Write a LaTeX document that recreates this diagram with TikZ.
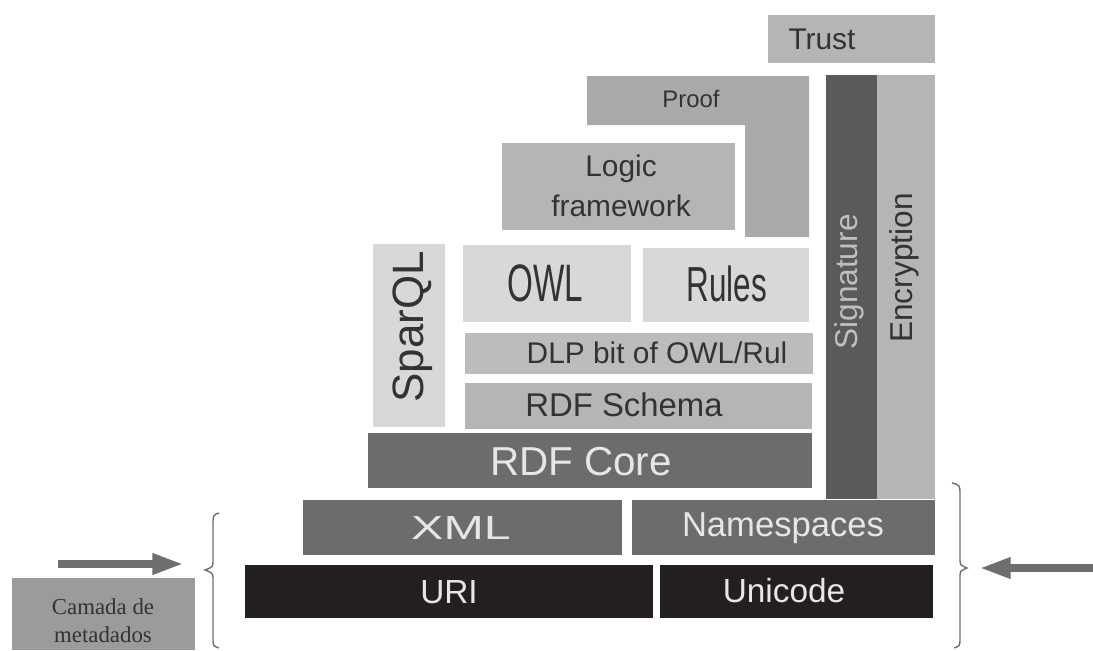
\documentclass[tikz,border=0pt]{standalone}
\usepackage{fontspec}
\setmainfont{Liberation Sans}
\newfontfamily\camadafont{Liberation Serif}
\usetikzlibrary{arrows.meta}
\usepackage{graphicx}

\definecolor{palegray}{HTML}{D8D8DA}
\definecolor{midgray}{HTML}{B5B5B7}
\definecolor{proofgray}{HTML}{AAAAAC}
\definecolor{darkgray}{HTML}{6C6C6F}
\definecolor{signgray}{HTML}{5A5A5D}
\definecolor{blackish}{HTML}{231F20}
\definecolor{camadagray}{HTML}{9B9B9B}
\definecolor{arrowgray}{HTML}{6E6E70}
\definecolor{inkdark}{HTML}{333333}
\definecolor{inklight}{HTML}{E6E6E6}

\newcommand{\fsz}[2]{\fontsize{#1}{#2}\selectfont}

\tikzset{
  lbl/.style={inner sep=0pt, text=inkdark},
  lbllight/.style={inner sep=0pt, text=inklight},
  bigarrow/.style={draw=arrowgray, line width=4.5pt, -{Triangle[length=18pt,width=11pt]}},
  bracestyle/.style={draw=arrowgray, line width=0.8pt}
}

\begin{document}
\begin{tikzpicture}[x=0.02cm,y=-0.02cm]
\useasboundingbox (0,0) rectangle (1093,650);
% trust, in cima
\fill[midgray] (768,15) rectangle (935,63);
\node[lbl, font=\fsz{17}{20}] (trust) at (822,39) {Trust};
% proof, a forma di L
\fill[proofgray] (587,76) -- (809,76) -- (809,237) -- (745,237) -- (745,125) -- (587,125) -- cycle;
\node[lbl, font=\fsz{13.6}{16}] (proof) at (691,99) {Proof};
% logic framework
\fill[midgray] (502,143) rectangle (735,230);
\node[lbl, font=\fsz{17}{22.7}, align=center] (logic) at (621,186) {Logic\\framework};
% signature ed encryption, colonne
\fill[signgray] (826,75) rectangle (877,499);
\node[lbllight, font=\fsz{18}{20}, rotate=90, text=lightgray] (sign) at (849,282) {Signature};
\fill[midgray] (877,75) rectangle (935,499);
\node[lbl, font=\fsz{18}{20}, rotate=90] (encr) at (904,268) {Encryption};
% sparql, colonna sinistra
\fill[palegray] (373,244) rectangle (445,427);
\node[lbl, font=\fsz{25}{28}, rotate=90] (sparql) at (413,327) {SparQL};
% owl e rules
\fill[palegray] (463,245) rectangle (631,322);
\node[lbl, font=\fsz{30}{32}] (owl) at (545,283) {\scalebox{0.63}[1]{OWL}};
\fill[palegray] (643,248) rectangle (809,322);
\node[lbl, font=\fsz{28}{30}] (rules) at (727,284) {\scalebox{0.64}[1]{Rules}};
% dlp
\fill[midgray!90!white] (465,333) rectangle (813,374);
\node[lbl, font=\fsz{17}{20}] (dlp) at (657,353) {DLP bit of OWL/Rul};
% rdf schema
\fill[midgray] (465,383) rectangle (812,429);
\node[lbl, font=\fsz{18.7}{20}] (schema) at (624,405) {RDF Schema};
% rdf core
\fill[darkgray] (368,433) rectangle (812,488);
\node[lbllight, font=\fsz{23}{26}] (core) at (581,462) {RDF Core};
% xml e namespaces
\fill[darkgray] (303,500) rectangle (622,555);
\node[lbllight, font=\fsz{19}{22}] (xml) at (461,528) {\scalebox{1.45}[1]{XML}};
\fill[darkgray] (632,500) rectangle (935,555);
\node[lbllight, font=\fsz{19.7}{22}] (ns) at (783,528) {Namespaces};
% uri e unicode
\fill[blackish] (245,565) rectangle (653,618);
\node[lbllight, font=\fsz{19}{22}] (uri) at (449,592) {URI};
\fill[blackish] (660,565) rectangle (933,618);
\node[lbllight, font=\fsz{19}{22}] (unicode) at (784,591) {Unicode};
% camada de metadados
\fill[camadagray] (12,578) rectangle (195,650);
\node[lbl, font=\camadafont\fsz{13}{15.9}, align=center, text=inkdark] (camada) at (103,621) {Camada de\\metadados};
% graffe
\coordinate (ltip) at (205,570);
\coordinate (rtip) at (967,568);
\draw[bracestyle] (219,513) .. controls (213,515) .. (213,525) -- (213,560)
  .. controls (213,567) .. (ltip) .. controls (213,573) .. (213,580) -- (213,638)
  .. controls (213,646) .. (219,648);
\draw[bracestyle] (952,483) .. controls (960,485) .. (960,495) -- (960,558)
  .. controls (960,565) .. (rtip) .. controls (960,571) .. (960,578) -- (960,638)
  .. controls (960,646) .. (954,648);
% frecce
\coordinate (lstart) at (58,564);
\coordinate (lend) at (184,564);
\coordinate (rstart) at (1093,568);
\coordinate (rend) at (979,568);
\draw[bigarrow] (lstart) -- (lend);
\draw[bigarrow] (rstart) -- (rend);
\end{tikzpicture}
\end{document}
